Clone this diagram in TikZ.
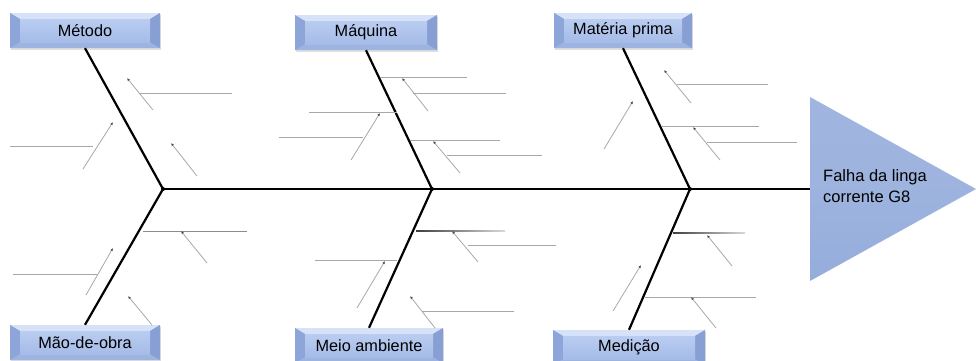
\documentclass[tikz,border=0pt]{standalone}
\usepackage{fontspec}
\setmainfont{Liberation Sans}
\usetikzlibrary{arrows.meta,shadows}
\definecolor{bvface}{HTML}{A5BCE8}
\definecolor{bvfacetop}{HTML}{BACCF0}
\definecolor{bvtop}{HTML}{D6E2F8}
\definecolor{bvbot}{HTML}{9DB3E0}
\definecolor{bvleft}{HTML}{8DA5D8}
\definecolor{bvright}{HTML}{889FD3}
\definecolor{tricol}{HTML}{95ADDC}
\definecolor{twig}{HTML}{A8A8A8}
\tikzset{
  catbox/.style={minimum height=35pt, inner sep=0pt, fill=bvface,
    font=\fontsize{16.3}{18}\selectfont,
    drop shadow={opacity=0.25, shadow xshift=1pt, shadow yshift=-1.5pt},
    path picture={
      \fill[bvtop] (path picture bounding box.north west) -- (path picture bounding box.north east)
        -- ([shift={(-10pt,-6pt)}]path picture bounding box.north east)
        -- ([shift={(10pt,-6pt)}]path picture bounding box.north west) -- cycle;
      \fill[bvbot] (path picture bounding box.south west) -- (path picture bounding box.south east)
        -- ([shift={(-10pt,6pt)}]path picture bounding box.south east)
        -- ([shift={(10pt,6pt)}]path picture bounding box.south west) -- cycle;
      \fill[bvleft] (path picture bounding box.north west)
        -- ([shift={(10pt,-6pt)}]path picture bounding box.north west)
        -- ([shift={(10pt,6pt)}]path picture bounding box.south west)
        -- (path picture bounding box.south west) -- cycle;
      \fill[bvright] (path picture bounding box.north east)
        -- ([shift={(-10pt,-6pt)}]path picture bounding box.north east)
        -- ([shift={(-10pt,6pt)}]path picture bounding box.south east)
        -- (path picture bounding box.south east) -- cycle;
      \shade[top color=bvfacetop, bottom color=bvface]
        ([shift={(10pt,-6pt)}]path picture bounding box.north west)
        rectangle ([shift={(-10pt,6pt)}]path picture bounding box.south east);
    }},
  bone/.style={line width=2.2pt, black},
  spine/.style={line width=1.4pt, black},
  twigline/.style={line width=0.8pt, twig},
  twigarrow/.style={line width=0.8pt, twig, -{Latex[length=3pt,width=2.6pt,black!70]}},
}
\begin{document}
\begin{tikzpicture}[x=1pt,y=-1pt]
\useasboundingbox[fill=white] (0,0) rectangle (976,360);

% category boxes
\node[catbox, minimum width=150pt] (metodo) at (85,30.5) {Método};
\node[catbox, minimum width=142pt] (maquina) at (366,32.5) {Máquina};
\node[catbox, minimum width=138pt] (materia) at (623,30.5) {Matéria prima};
\node[catbox, minimum width=150pt] (maoobra) at (85,342.5) {Mão-de-obra};
\node[catbox, minimum width=148pt] (meio) at (369,345.5) {Meio ambiente};
\node[catbox, minimum width=152pt] (medicao) at (629,347.5) {Medição};

% head triangle
\shade[top color=tricol!90!white, bottom color=tricol, middle color=tricol!92!white] (810,97) -- (976,189) -- (810,281) -- cycle;
\node[anchor=north west, align=left, inner sep=0pt, font=\fontsize{16.5}{21}\selectfont] (head) at (823,169) {Falha da linga\\corrente G8};
\coordinate (T) at (810,189);

% junctions
\coordinate (J1) at (163,189);
\coordinate (J2) at (432,189);
\coordinate (J3) at (690,189);

% spine
\draw[spine] (J1) -- (T);

% main bones
\draw[bone] (metodo.south) -- (J1);
\draw[bone] (J1) -- (maoobra.north);
\draw[bone] (maquina.south) -- (J2);
\draw[bone] (J2) -- (meio.north);
\draw[bone] (materia.south) -- (J3);
\draw[bone] (J3) -- (medicao.north);
\foreach \j in {J1,J2,J3} \fill (\j) circle (2pt);

% Metodo twigs
\draw[twigline] (140,93) -- (232,93);
\draw[twigarrow] (153,110) -- (127,78);
\draw[twigline] (10,146) -- (93,146);
\draw[twigarrow] (83,169) -- (113,122);
\draw[twigarrow] (197,176) -- (171,143);

% Mao-de-obra twigs
\draw[line width=0.9pt, black!45] (143,231) -- (247,231);
\draw[twigarrow] (207,263) -- (181,231);
\draw[twigarrow] (86,295) -- (113,248);
\draw[twigline] (13,274) -- (97,274);
\draw[twigarrow] (152,325) -- (128,296);

% Maquina twigs
\draw[twigline] (380,77) -- (467,77);
\draw[twigarrow] (428,111) -- (402,78);
\draw[twigline] (413,93) -- (506,93);
\draw[twigline] (309,112) -- (397,112);
\draw[twigarrow] (351,160) -- (380,113);
\draw[twigline] (279,137) -- (363,137);
\draw[twigline] (410,140) -- (500,140);
\draw[twigarrow] (460,173) -- (433,141);
\draw[twigline] (447,155) -- (542,155);

% Meio ambiente twigs
\shade[left color=black!75, right color=black!15] (416,230.4) rectangle (505,231.6);
\draw[twigarrow] (478,262) -- (452,231);
\draw[twigline] (468,245) -- (556,245);
\draw[twigline] (315,260) -- (397,260);
\draw[twigarrow] (357,308) -- (385,261);
\draw[twigarrow] (435,328) -- (410,296);
\draw[twigline] (422,311) -- (514,311);

% Materia prima twigs
\draw[twigarrow] (691,103) -- (664,70);
\draw[twigline] (677,84) -- (768,84);
\draw[twigarrow] (604,149) -- (633,101);
\draw[twigline] (662,126) -- (759,126);
\draw[twigarrow] (720,160) -- (693,127);
\draw[twigline] (707,142) -- (797,142);

% Medicao twigs
\shade[left color=black!75, right color=black!15] (673,232.4) rectangle (745,233.6);
\draw[twigarrow] (732,266) -- (707,235);
\draw[twigarrow] (613,311) -- (641,265);
\draw[twigline] (645,297) -- (756,297);
\draw[twigarrow] (716,328) -- (691,297);
\end{tikzpicture}
\end{document}
